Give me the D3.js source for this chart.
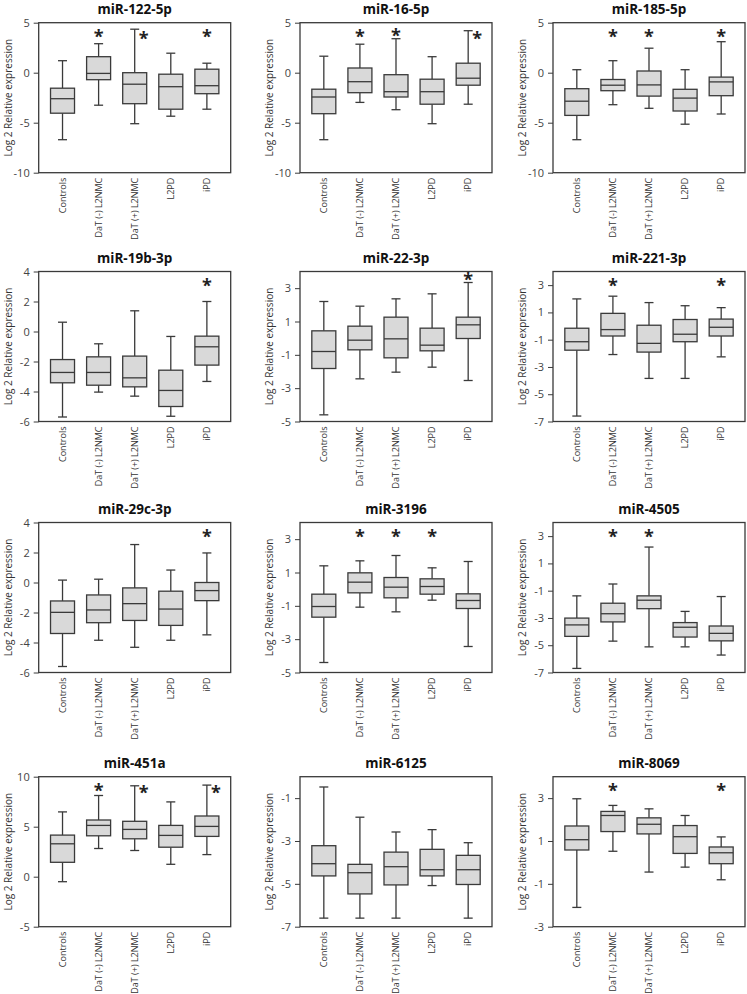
<!DOCTYPE html>
<html>
<head>
<meta charset="utf-8">
<script src="https://cdn.jsdelivr.net/npm/d3@7/dist/d3.min.js"></script>
<style>
body { margin: 0; background: #fff; }
svg { display: block; font-family: "Open Sans", sans-serif; }
</style>
</head>
<body>
<script>
// groups on the x axis
var groups = ["Controls", "DaT (-) L2NMC", "DaT (+) L2NMC", "L2PD", "iPD"];

// each box: [whisker low, q1, median, q3, whisker high]
var mir122 = [[-6.7,-4.05,-2.6,-1.55,1.2],[-3.25,-0.7,-0.07,1.6,2.9],[-5.1,-3.1,-1.15,0,4.35],[-4.35,-3.65,-1.4,-0.15,1.95],[-3.65,-2.1,-1.3,0.35,0.95]];
var mir16 = [[-6.7,-4.1,-2.43,-1.65,1.65],[-2.97,-2.0,-0.9,0.47,2.85],[-3.7,-2.43,-1.9,-0.2,3.4],[-5.1,-3.15,-1.9,-0.65,1.6],[-3.15,-1.25,-0.55,0.95,4.2]];
var mir185 = [[-6.7,-4.27,-2.85,-1.6,0.3],[-3.2,-1.8,-1.25,-0.68,1.2],[-3.56,-2.34,-1.22,0.17,2.45],[-5.15,-3.83,-2.54,-1.66,0.3],[-4.13,-2.3,-0.92,-0.44,3.1]];
var mir19b = [[-5.7,-3.42,-2.73,-1.87,0.62],[-4.04,-3.58,-2.73,-1.69,-0.82],[-4.31,-3.69,-3.09,-1.64,1.38],[-5.65,-5.0,-3.93,-2.58,-0.33],[-3.33,-2.24,-1.02,-0.31,2.0]];
var mir22 = [[-4.6,-1.82,-0.8,0.44,2.2],[-2.44,-0.7,-0.12,0.72,1.92],[-2.04,-1.18,-0.04,1.26,2.36],[-1.74,-0.76,-0.42,0.6,2.66],[-2.54,-0.02,0.8,1.26,3.34]];
var mir221 = [[-6.6,-1.77,-1.15,-0.16,1.99],[-2.09,-0.73,-0.26,0.93,2.19],[-3.84,-1.91,-1.27,0.06,1.72],[-3.84,-1.15,-0.6,0.48,1.49],[-2.26,-0.73,-0.09,0.51,1.35]];
var mir29c = [[-5.6,-3.4,-1.99,-1.23,0.16],[-3.85,-2.68,-1.83,-0.83,0.22],[-4.32,-2.53,-1.41,-0.36,2.53],[-3.85,-2.86,-1.77,-0.58,0.83],[-3.49,-1.21,-0.54,0,1.97]];
var mir3196 = [[-4.4,-1.68,-1.04,-0.3,1.4],[-1.08,-0.22,0.42,0.98,1.7],[-1.36,-0.52,0.12,0.7,2.02],[-0.66,-0.3,0.16,0.62,1.28],[-3.44,-1.16,-0.68,-0.28,1.66]];
var mir4505 = [[-6.7,-4.35,-3.51,-3.01,-1.38],[-4.7,-3.29,-2.69,-1.92,-0.51],[-5.12,-2.32,-1.7,-1.38,2.2],[-5.12,-4.4,-3.68,-3.34,-2.52],[-5.72,-4.68,-4.13,-3.59,-1.43]];
var mir451a = [[-0.5,1.44,3.29,4.16,6.48],[2.82,4.09,5.13,5.67,8.12],[2.62,3.79,4.73,5.54,9.09],[1.24,2.95,4.13,5.13,7.48],[2.21,4.03,5.03,6.07,9.16]];
var mir6125 = [[-6.6,-4.63,-4.06,-3.22,-0.48],[-6.6,-5.47,-4.48,-4.09,-1.89],[-6.6,-5.05,-4.2,-3.52,-2.58],[-5.08,-4.63,-4.34,-3.39,-2.47],[-6.6,-5.03,-4.34,-3.67,-3.08]];
var mir8069 = [[-2.1,0.58,1.06,1.7,2.97],[0.52,1.44,2.19,2.38,2.66],[-0.45,1.33,1.78,2.08,2.5],[-0.22,0.42,1.2,1.72,2.19],[-0.81,-0.06,0.45,0.72,1.19]];

var titles = ["miR-122-5p","miR-16-5p","miR-185-5p","miR-19b-3p","miR-22-3p","miR-221-3p","miR-29c-3p","miR-3196","miR-4505","miR-451a","miR-6125","miR-8069"];
var boxes = [mir122, mir16, mir185, mir19b, mir22, mir221, mir29c, mir3196, mir4505, mir451a, mir6125, mir8069];
var domains = [[-10,5],[-10,5],[-10,5],[-6,4],[-5,4],[-7,4],[-6,4],[-5,4],[-7,4],[-5,10],[-7,0],[-3,4]];
var ticks = [[-10,-5,0,5],[-10,-5,0,5],[-10,-5,0,5],[-6,-4,-2,0,2,4],[-5,-3,-1,1,3],[-7,-5,-3,-1,1,3],[-6,-4,-2,0,2,4],[-5,-3,-1,1,3],[-7,-5,-3,-1,1,3],[-5,0,5,10],[-7,-5,-3,-1],[-3,-1,1,3]];
var stars = [
  ["DaT (-) L2NMC","DaT (+) L2NMC","iPD"],
  ["DaT (-) L2NMC","DaT (+) L2NMC","iPD"],
  ["DaT (-) L2NMC","DaT (+) L2NMC","iPD"],
  ["iPD"],
  ["iPD"],
  ["DaT (-) L2NMC","iPD"],
  ["iPD"],
  ["DaT (-) L2NMC","DaT (+) L2NMC","L2PD"],
  ["DaT (-) L2NMC","DaT (+) L2NMC"],
  ["DaT (-) L2NMC","DaT (+) L2NMC","iPD"],
  [],
  ["DaT (-) L2NMC","iPD"]
];

var width = 747, height = 994;
var colLeft = [38.7, 300, 553];
var rowTop = [22.7, 271.5, 522.5, 776.7];
var pw = 192, ph = 150;
var dark = "#3a3a3a";

var svg = d3.select("body").append("svg")
  .attr("width", width)
  .attr("height", height);

titles.forEach(function(title, i){
  var left = colLeft[i % 3], top = rowTop[Math.floor(i / 3)];
  var g = svg.append("g").attr("transform", "translate(" + left + "," + top + ")");

  var x = d3.scalePoint().domain(groups).range([0, pw]).padding(0.66);
  var y = d3.scaleLinear().domain(domains[i]).range([ph, 0]);

  // title
  g.append("text")
    .attr("x", pw / 2).attr("y", -8.5)
    .attr("text-anchor", "middle")
    .style("font-size", "13.5px").style("font-weight", "bold").style("fill", "#111")
    .text(title);

  // y axis
  var yAxis = d3.axisLeft(y).tickValues(ticks[i]).tickSize(5).tickPadding(4)
    .tickFormat(function(d){ return String(d); });
  var ya = g.append("g").call(yAxis);
  ya.select(".domain").remove();
  ya.selectAll(".tick line").attr("stroke", dark);
  ya.selectAll(".tick text").style("font-size", "11px").style("fill", "#444")
    .style("font-family", "'Open Sans', sans-serif");

  g.append("text")
    .attr("transform", "translate(" + (-27) + "," + (ph / 2) + ") rotate(-90)")
    .attr("text-anchor", "middle")
    .style("font-size", "10px").style("fill", "#333")
    .text("Log 2 Relative expression");

  // x labels
  groups.forEach(function(c){
    g.append("text")
      .attr("transform", "translate(" + (x(c) + 3.2) + "," + (ph + 5) + ") rotate(-90)")
      .attr("text-anchor", "end")
      .style("font-size", "9px").style("fill", "#333")
      .text(c);
  });

  // boxes
  var bw = 24, cw = 9;
  boxes[i].forEach(function(b, j){
    var cx = x(groups[j]);
    var bg = g.append("g").attr("stroke", dark).attr("stroke-width", 1.3).attr("fill", "none");
    bg.append("line").attr("x1", cx).attr("x2", cx).attr("y1", y(b[0])).attr("y2", y(b[1]));
    bg.append("line").attr("x1", cx).attr("x2", cx).attr("y1", y(b[3])).attr("y2", y(b[4]));
    bg.append("line").attr("x1", cx - cw / 2).attr("x2", cx + cw / 2).attr("y1", y(b[0])).attr("y2", y(b[0]));
    bg.append("line").attr("x1", cx - cw / 2).attr("x2", cx + cw / 2).attr("y1", y(b[4])).attr("y2", y(b[4]));
    bg.append("rect")
      .attr("x", cx - bw / 2).attr("width", bw)
      .attr("y", y(b[3])).attr("height", y(b[1]) - y(b[3]))
      .attr("fill", "#d9d9d9");
    bg.append("line").attr("x1", cx - bw / 2).attr("x2", cx + bw / 2).attr("y1", y(b[2])).attr("y2", y(b[2]));
  });

  // significance stars
  stars[i].forEach(function(c){
    var b = boxes[i][groups.indexOf(c)];
    var wTop = y(b[4]);
    var sx = x(c), sy;
    if (wTop < 10) { sx += 9; sy = 13; }
    else { sy = Math.min(11, wTop - 6); }
    g.append("text")
      .attr("x", sx).attr("y", sy + 9.5)
      .attr("text-anchor", "middle")
      .style("font-size", "18px").style("font-weight", "bold").style("fill", "#222")
      .text("*");
  });

  // frame
  g.append("rect")
    .attr("width", pw).attr("height", ph)
    .attr("fill", "none").attr("stroke", dark).attr("stroke-width", 1.3);
});
</script>
</body>
</html>
